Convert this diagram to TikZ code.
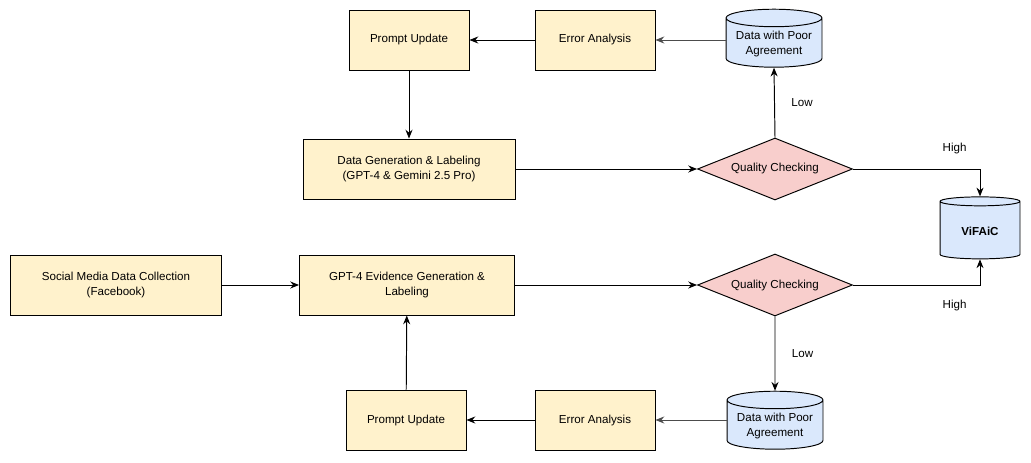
\documentclass[tikz,border=0pt]{standalone}
\usepackage{fontspec}
\setmainfont{Liberation Sans}
\usepackage{xcolor}
\definecolor{boxfill}{HTML}{fff2cc}
\definecolor{dbfill}{HTML}{dae8fc}
\definecolor{checkfill}{HTML}{f8cecc}
\usetikzlibrary{shapes, arrows.meta, positioning, calc}

\begin{document}
\begin{tikzpicture}[x=0.02cm, y=-0.02cm, font=\fontsize{6.6}{8.2}\selectfont, line width=0.55pt,
    stepbox/.style={draw, rectangle, fill=boxfill, minimum width=2.4cm, minimum height=1.2cm, text centered},
    widebox/.style={stepbox, minimum width=4.24cm},
    database/.style={draw, cylinder, shape border rotate=90, aspect=0.22, fill=dbfill, minimum width=1.92cm, minimum height=1.16cm, inner sep=1pt, align=center},
    check/.style={draw, diamond, fill=checkfill, minimum width=3.1cm, minimum height=1.24cm, aspect=2.5, inner sep=0pt},
    flow/.style={-{Stealth[length=5pt, width=4pt]}}]
    \useasboundingbox (0,0) rectangle (1031,463);

    % upper loop
    \node[stepbox] (promptA) at (409,40) {Prompt Update};
    \node[stepbox] (errorA) at (595,40) {Error Analysis};
    \node[database] (poorA) at (774,44) {Data with Poor\\Agreement};
    \node[widebox, align=center] (datagen) at (409,169) {Data Generation \& Labeling\\(GPT-4 \& Gemini 2.5 Pro)};
    \node[check] (checkA) at (775,169) {Quality Checking};

    % result
    \node[database, minimum width=1.6cm, minimum height=1.24cm] (vifaic) at (980,231) {\textbf{ViFAiC}};

    % lower loop
    \node[widebox, align=center] (social) at (116,285) {Social Media Data Collection\\(Facebook)};
    \node[widebox, minimum width=4.3cm, align=center] (evidence) at (407,285) {GPT-4 Evidence Generation \&\\Labeling};
    \node[check] (checkB) at (775,285) {Quality Checking};
    \node[database] (poorB) at (775,426) {Data with Poor\\Agreement};
    \node[stepbox] (errorB) at (595,420) {Error Analysis};
    \node[stepbox] (promptB) at (406,420) {Prompt Update};

    \draw[flow, black!70] (poorA.west |- errorA.east) -- (errorA.east);
    \draw[flow] (errorA) -- (promptA);
    \draw[flow] (promptA) -- (datagen);
    \draw[flow] (datagen) -- (checkA);
    \draw[flow] (checkA.north) -- node[right=6pt] {Low} (poorA.south);
    \draw[flow] (checkA.east) -| node[pos=0.4, above=5pt] {High} (vifaic.north);

    \draw[flow] (social) -- (evidence);
    \draw[flow] (evidence) -- (checkB);
    \draw[flow] (checkB.east) -| node[pos=0.4, below=5pt] {High} (vifaic.south);
    \draw[flow] (checkB.south) -- node[right=6pt] {Low} (poorB.north);
    \draw[flow, black!70] (poorB.west |- errorB.east) -- (errorB.east);
    \draw[flow] (errorB) -- (promptB);
    \draw[flow] (promptB) -- (evidence);
\end{tikzpicture}
\end{document}
